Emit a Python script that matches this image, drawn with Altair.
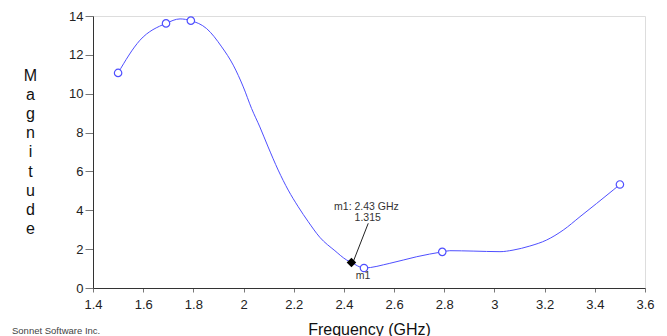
import altair as alt
import pandas as pd

# Curve (frequency GHz, magnitude)
line_freq = [1.50, 1.587, 1.691, 1.747, 1.790, 1.853, 1.913, 1.959, 1.999, 2.032,
             2.065, 2.098, 2.138, 2.178, 2.218, 2.258, 2.304, 2.364, 2.411, 2.43,
             2.48, 2.583, 2.69, 2.792, 2.822, 2.915, 3.022, 3.074, 3.141, 3.208,
             3.274, 3.341, 3.407, 3.473, 3.5]
line_mag = [11.07, 12.75, 13.62, 13.85, 13.76, 13.35, 12.41, 11.47, 10.35, 9.24,
            8.29, 7.26, 6.07, 5.04, 4.18, 3.41, 2.61, 1.92, 1.44, 1.315,
            1.03, 1.27, 1.61, 1.86, 1.92, 1.90, 1.87, 1.95, 2.16, 2.47,
            2.98, 3.67, 4.35, 5.04, 5.33]

# Simulated data points (open circles)
pt_freq = [1.50, 1.691, 1.790, 2.48, 2.792, 3.5]
pt_mag = [11.07, 13.62, 13.76, 1.03, 1.86, 5.33]

# Marker m1
m1_freq = [2.43]
m1_mag = [1.315]
m1_text = ["m1: 2.43 GHz", "1.315", "m1"]
m1_text_x = [2.49, 2.495, 2.476]
m1_text_y = [4.18, 3.60, 0.62]
lead_x = [2.497]
lead_y = [3.33]
lead_x2 = [2.437]
lead_y2 = [1.35]

x_ticks = [1.4, 1.6, 1.8, 2.0, 2.2, 2.4, 2.6, 2.8, 3.0, 3.2, 3.4, 3.6]
y_ticks = [0.0, 2.0, 4.0, 6.0, 8.0, 10.0, 12.0, 14.0]

FONT = "Arial, Liberation Sans"
BLUE = "#4f4fff"

line_df = pd.DataFrame({"f": line_freq, "m": line_mag})
pt_df = pd.DataFrame({"f": pt_freq, "m": pt_mag})
m1_df = pd.DataFrame({"f": m1_freq, "m": m1_mag})
txt_df = pd.DataFrame({"f": m1_text_x, "m": m1_text_y, "t": m1_text})
lead_df = pd.DataFrame({"f": lead_x, "m": lead_y, "f2": lead_x2, "m2": lead_y2})
credit_df = pd.DataFrame({"t": ["Sonnet Software Inc."]})

xs = alt.Scale(domain=[1.4, 3.6], nice=False, zero=False)
ys = alt.Scale(domain=[0, 14], nice=False)

x_axis = alt.Axis(values=x_ticks, format="~g", grid=False, tickSize=4,
                  labelPadding=6, labelFontSize=13, labelFont=FONT, labelColor="#222",
                  labelOverlap=False, labelFlush=False,
                  domainColor="#333", tickColor="#777",
                  title="Frequency (GHz)", titleFont=FONT, titleFontSize=16,
                  titleFontWeight="normal", titleColor="#111",
                  titleBaseline="top", titleY=33)
y_axis = alt.Axis(values=y_ticks, format="~g", grid=False, tickSize=8, labelPadding=2,
                  labelFontSize=13, labelFont=FONT, labelColor="#222",
                  labelOverlap=False, labelFlush=False, tickCount=8,
                  domainColor="#333", tickColor="#777",
                  title=list("Magnitude"), titleAngle=0, titleAlign="center",
                  titleBaseline="top", titleX=-63, titleY=51, titleLineHeight=19.2,
                  titleFont=FONT, titleFontSize=16, titleFontWeight="normal",
                  titleColor="#111")

line = alt.Chart(line_df).mark_line(color=BLUE, strokeWidth=1, interpolate="monotone").encode(
    x=alt.X("f:Q", scale=xs, axis=x_axis), y=alt.Y("m:Q", scale=ys, axis=y_axis))

pts = alt.Chart(pt_df).mark_point(shape="circle", filled=True, fill="white",
                                   stroke=BLUE, strokeWidth=1.2, size=55, opacity=1).encode(
    x=alt.X("f:Q", scale=xs, axis=x_axis), y=alt.Y("m:Q", scale=ys, axis=y_axis))

lead = alt.Chart(lead_df).mark_rule(color="#222", strokeWidth=1).encode(
    x=alt.X("f:Q", scale=xs, axis=x_axis), y=alt.Y("m:Q", scale=ys, axis=y_axis),
    x2="f2:Q", y2="m2:Q")

diamond = alt.Chart(m1_df).mark_point(shape="diamond", filled=True, color="black",
                                       size=90, opacity=1).encode(
    x=alt.X("f:Q", scale=xs, axis=x_axis), y=alt.Y("m:Q", scale=ys, axis=y_axis))

txt = alt.Chart(txt_df).mark_text(font=FONT, fontSize=10.5, color="#333",
                                  align="center", baseline="middle").encode(
    x=alt.X("f:Q", scale=xs, axis=x_axis), y=alt.Y("m:Q", scale=ys, axis=y_axis),
    text="t:N")

credit = alt.Chart(credit_df).mark_text(font=FONT, fontSize=9.5, color="#444",
                                        align="left", baseline="middle").encode(
    x=alt.value(-81), y=alt.value(315), text="t:N")

chart = alt.layer(line, lead, pts, diamond, txt, credit).properties(
    width=552, height=272,
    padding={"left": 85, "top": 8, "right": 14, "bottom": 48},
    autosize=alt.AutoSizeParams(type="none"),
).configure_view(stroke="#555", strokeWidth=1.5).configure(background="white")

chart.save("out.html", embed_options={"renderer": "svg", "actions": False})
